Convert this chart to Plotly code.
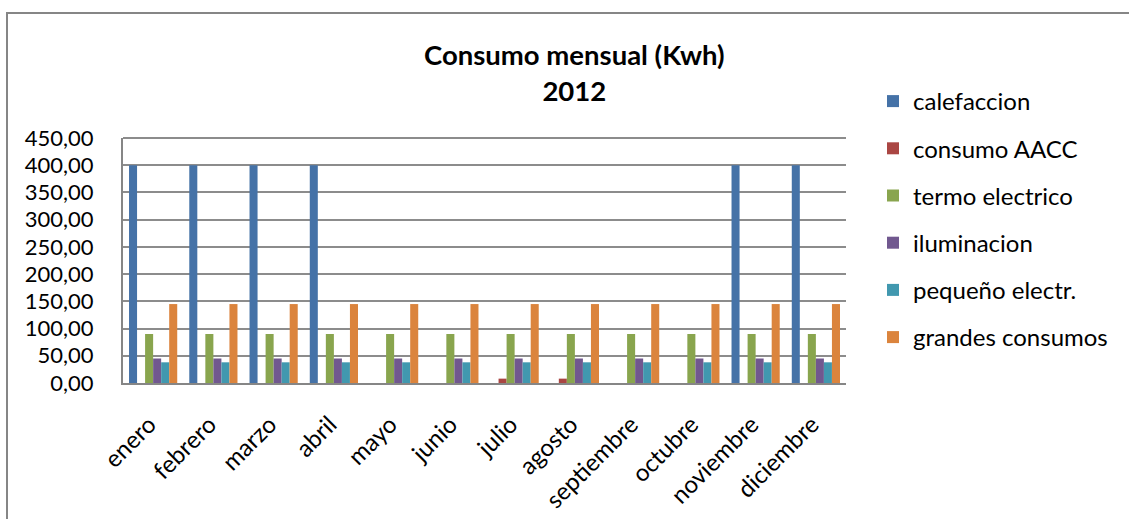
import plotly.graph_objects as go

months = ["enero", "febrero", "marzo", "abril", "mayo", "junio", "julio",
          "agosto", "septiembre", "octubre", "noviembre", "diciembre"]

calefaccion = [400, 400, 400, 400, 0, 0, 0, 0, 0, 0, 400, 400]
consumo_aacc = [0, 0, 0, 0, 0, 0, 8, 8, 0, 0, 0, 0]
termo_electrico = [90, 90, 90, 90, 90, 90, 90, 90, 90, 90, 90, 90]
iluminacion = [45, 45, 45, 45, 45, 45, 45, 45, 45, 45, 45, 45]
pequeno_electr = [38, 38, 38, 38, 38, 38, 38, 38, 38, 38, 38, 38]
grandes_consumos = [145, 145, 145, 145, 145, 145, 145, 145, 145, 145, 145, 145]

series = [
    ("calefaccion", calefaccion, "#4572A7"),
    ("consumo AACC", consumo_aacc, "#AA4643"),
    ("termo electrico", termo_electrico, "#89A54E"),
    ("iluminacion", iluminacion, "#71588F"),
    ("pequeño electr.", pequeno_electr, "#4198AF"),
    ("grandes consumos", grandes_consumos, "#DB843D"),
]

FONT = "Lato"

fig = go.Figure()
for name, vals, color in series:
    fig.add_trace(go.Bar(
        x=months, y=vals, name=name, legendgroup=name,
        marker=dict(color=color, line=dict(width=0)),
    ))

W, H = 1129, 519
L, R, T, B = 123, 846, 138, 383
pw, ph = R - L, B - T

def px(x):
    return (x - L) / pw

def py(y):
    return (B - y) / ph

fig.update_layout(
    width=W, height=H,
    margin=dict(l=L, r=W - R, t=T, b=H - B, autoexpand=False),
    paper_bgcolor="white", plot_bgcolor="white",
    barmode="group", bargap=0.2, bargroupgap=0,
    separators=",.",
    font=dict(family=FONT, color="black"),
    showlegend=True,
    legend=dict(
        x=px(873), y=py(79), xanchor="left", yanchor="top",
        font=dict(size=24, family=FONT, color="black"),
        tracegroupgap=13, traceorder="grouped",
        bgcolor="rgba(0,0,0,0)", maxheight=450,
    ),
    xaxis=dict(
        tickangle=-45, tickfont=dict(size=24, family=FONT, color="black"),
        showline=True, linecolor="#868686", linewidth=2,
        showgrid=False, ticks="", mirror=False, automargin=False,
        ticklabelstandoff=16, ticklabelshift=-4,
    ),
    yaxis=dict(
        range=[0, 450], dtick=50, tickformat=".2f",
        tickfont=dict(size=22, family=FONT, color="black"),
        showline=True, linecolor="#868686", linewidth=2,
        showgrid=True, gridcolor="#8c8c8c", gridwidth=2,
        ticks="outside", ticklen=23, tickcolor="rgba(0,0,0,0)",
        zeroline=False, automargin=False,
    ),
    annotations=[dict(
        text="<b>Consumo mensual (Kwh)<br>2012</b>",
        x=px(574), y=py(73), xref="paper", yref="paper",
        xanchor="center", yanchor="middle", showarrow=False,
        font=dict(size=27.5, family=FONT, color="black"),
    )],
    shapes=[
        dict(type="rect", xref="paper", yref="paper",
             x0=px(7), x1=px(1140), y0=py(13), y1=py(530),
             line=dict(color="#868686", width=2), fillcolor="rgba(0,0,0,0)",
             layer="below"),
        dict(type="line", xref="paper", yref="paper",
             x0=0, x1=1, y0=1, y1=1,
             line=dict(color="#8c8c8c", width=2)),
    ],
)

fig.write_html("out.html")
